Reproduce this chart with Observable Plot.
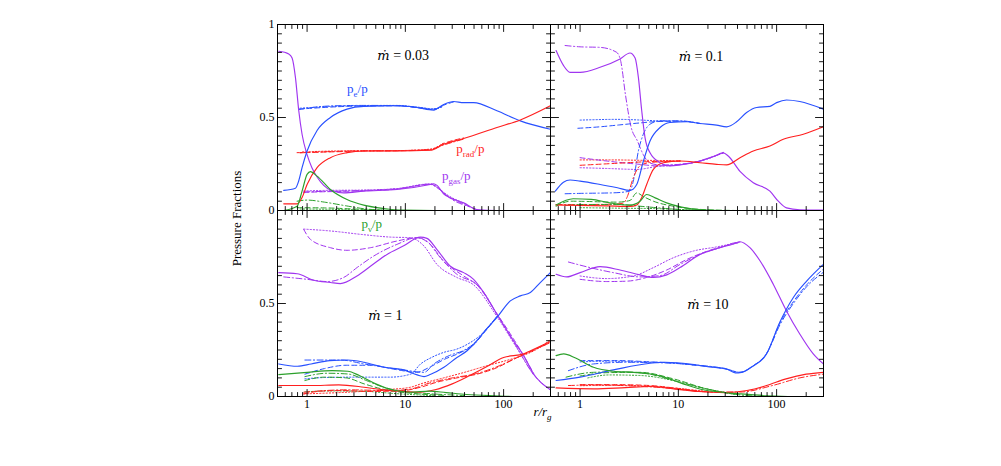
<!DOCTYPE html>
<html><head><meta charset="utf-8">
<script src="https://cdn.jsdelivr.net/npm/d3@7"></script>
<script src="https://cdn.jsdelivr.net/npm/@observablehq/plot@0.6"></script>
<style>body{margin:0;background:#fff;} #chart{width:1001px;height:466px;}</style>
</head><body><div id="chart"></div>
<script>
// ---- panels ----
const panelKeys = ["A","B","C","D"];
const panelCol = [0,1,0,1];
const panelRow = [0,0,1,1];
const panelTitle = ["0.03","0.1","1","10"];
const titleR = [9.5,17,6.26,20];
const titleV = [0.833,0.827,0.434,0.493];

// ---- species / styles ----
const speciesKeys = ["gas","pe","prad","pnu"];
const speciesColor = ["#a035f0","#2850ff","#ff1f1f","#2ca02c"];
const styleKeys = ["dot","dashdot","dash","solid"];
const styleDash = ["1.2,2","6,2.5,1.2,2.5","5,3",null];

// ---- species labels ----
const labelText = ["p_{e}/p","p_{rad}/p","p_{gas}/p","p_{ν}/p"];
const labelSpecies = ["pe","prad","gas","pnu"];
const labelPanel = [0,0,0,2];
const labelR = [2.55,33,23.6,3.57];
const labelV = [0.655,0.331,0.185,0.93];

// ---- ticks ----
const xMajor = [1,10,100];
const xMinor = [0.6,0.7,0.8,0.9,2,3,4,5,6,7,8,9,20,30,40,50,60,70,80,90,200];
const yMajor = [0.5];
const yMinor = [0.05,0.1,0.15,0.2,0.25,0.3,0.35,0.4,0.45,0.55,0.6,0.65,0.7,0.75,0.8,0.85,0.9,0.95];
const yLabelRow = [0,0,0,1,1];
const yLabelV = [1,0.5,0,0.5,0];
const yLabelText = ["1","0.5","0","0.5","0"];
const xLabelVals = [1,10,100];

// ---- data: [r/rg, fraction] ----
// Panel A: mdot = 0.03
const peA = {
 solid: [[0.579,0.108],[0.761,0.12],[0.823,0.16],[0.889,0.23],[1,0.32],[1.264,0.43],[1.727,0.50],[2.55,0.545],[3.77,0.56],[8.23,0.563],[13.1,0.554],[19.4,0.54],[24.5,0.57],[31,0.586],[39.2,0.58],[49.5,0.58],[85.5,0.536],[148,0.482],[299,0.437]],
 dash: [[0.823,0.545],[1,0.548],[1.73,0.556],[2.55,0.56],[3.77,0.562],[8.23,0.563],[13.1,0.553],[19.4,0.542],[24.5,0.566],[31,0.584]],
 dashdot: [[0.823,0.543],[1,0.55],[1.73,0.562],[3.77,0.565],[8.23,0.564],[13.1,0.555],[19.4,0.545],[24.5,0.563]],
 dot: [[0.85,0.55],[1.5,0.558],[3,0.563],[8.23,0.565],[13.1,0.556],[19.4,0.547],[24.5,0.56]]
};
const pradA = {
 solid: [[0.579,0.036],[0.791,0.036],[0.889,0.07],[1,0.14],[1.264,0.23],[1.727,0.284],[2.55,0.311],[3.77,0.32],[8.23,0.32],[17.9,0.324],[24.5,0.356],[39.2,0.387],[85.5,0.446],[148,0.487],[299,0.563]],
 dash: [[0.791,0.311],[1,0.312],[2,0.316],[3.77,0.32],[8.23,0.321],[17.9,0.326],[24.5,0.36],[39.2,0.39]],
 dashdot: [[0.85,0.31],[2,0.318],[3.77,0.321],[8.23,0.322],[17.9,0.328],[24.5,0.352],[39.2,0.384]],
 dot: [[0.9,0.315],[2,0.32],[8.23,0.322],[17.9,0.33],[24.5,0.362]]
};
const gasA = {
 solid: [[0.515,0.856],[0.651,0.842],[0.704,0.82],[0.761,0.716],[0.823,0.536],[0.889,0.41],[1,0.30],[1.12,0.23],[1.264,0.18],[1.477,0.135],[1.727,0.11],[2.36,0.095],[3.77,0.104],[8.23,0.113],[17.9,0.14],[19.4,0.144],[21,0.135],[24.5,0.09],[28.7,0.068],[39.2,0.041],[53.5,0.005],[85.5,0],[299,0]],
 dash: [[0.925,0.097],[1.3,0.1],[2.4,0.103],[3.77,0.106],[8.23,0.115],[17.9,0.142],[21,0.128],[26.5,0.08],[39.2,0.035],[53.5,0.004]],
 dashdot: [[0.925,0.1],[1.5,0.103],[3.77,0.108],[8.23,0.117],[17.9,0.14],[22,0.115],[28.7,0.065],[45,0.02]],
 dot: [[0.925,0.105],[1.5,0.108],[3.77,0.11],[8.23,0.118],[17.9,0.143],[21,0.125],[26.5,0.085],[39.2,0.04]]
};
const pnuA = {
 solid: [[0.579,0],[0.791,0.023],[0.889,0.104],[1,0.194],[1.081,0.209],[1.264,0.185],[1.727,0.113],[2.55,0.059],[3.77,0.029],[6.02,0.011],[9.62,0.002],[20,0],[299,0]],
 dashdot: [[0.791,0.05],[1,0.056],[1.5,0.045],[2.5,0.025],[4,0.008],[8,0]],
 dash: [[0.791,0.015],[1.5,0.014],[3,0.008],[6,0.002]],
 dot: [[0.85,0.008],[2,0.006],[5,0.001]]
};
// Panel B: mdot = 0.1
const gasB = {
 solid: [[0.57,0.86],[0.677,0.78],[0.791,0.743],[1,0.743],[1.597,0.77],[2.55,0.815],[3.22,0.847],[3.63,0.82],[3.92,0.716],[4.24,0.536],[4.58,0.392],[5.15,0.31],[6.5,0.257],[8.2,0.24],[10.4,0.245],[16.6,0.266],[22.7,0.29],[28.7,0.31],[32.2,0.293],[42.4,0.21],[57.9,0.149],[85.5,0.104],[104,0.05],[126,0.014],[172,0.004],[299,0.002]],
 dashdot: [[0.704,0.887],[1,0.88],[1.597,0.877],[2.36,0.85],[2.6,0.8],[2.9,0.62],[3.3,0.45],[3.83,0.374],[4.4,0.3],[5.15,0.255],[6.5,0.245],[10.4,0.248],[16.6,0.266],[22.7,0.29],[28.7,0.312]],
 dash: [[1,0.284],[1.867,0.266],[4.07,0.248],[6.02,0.24],[10.4,0.248],[16.6,0.266],[28.7,0.31]],
 dot: [[1,0.23],[1.867,0.226],[3.8,0.221],[6,0.236],[10,0.245],[16.6,0.266],[28.7,0.31]]
};
const peB = {
 solid: [[0.56,0.104],[0.677,0.152],[0.79,0.164],[1,0.158],[1.6,0.14],[2.4,0.122],[3.22,0.108],[3.77,0.14],[4.41,0.266],[5.15,0.374],[6.51,0.446],[8.2,0.473],[12.2,0.477],[16.6,0.468],[24.5,0.459],[31,0.45],[39.2,0.477],[49.5,0.527],[62.6,0.554],[85.5,0.56],[100,0.58],[126,0.594],[172,0.586],[299,0.545]],
 dashdot: [[0.704,0.09],[1,0.092],[2.18,0.095],[3.2,0.104],[3.48,0.158],[3.92,0.32],[4.4,0.41],[5.15,0.464],[6.5,0.482],[10.4,0.482],[16.6,0.468]],
 dash: [[0.95,0.442],[1.6,0.45],[2.5,0.46],[4.1,0.471],[6,0.478],[10.4,0.48],[16.6,0.468]],
 dot: [[1,0.486],[2.4,0.49],[6.5,0.482],[10.4,0.48]]
};
const pradB = {
 solid: [[0.57,0.03],[1,0.027],[1.867,0.025],[3.22,0.022],[3.77,0.03],[4.24,0.07],[4.76,0.14],[5.57,0.221],[7.04,0.257],[10.4,0.266],[16.6,0.257],[24.5,0.248],[31,0.245],[42.4,0.284],[57.9,0.32],[85.5,0.347],[117,0.383],[187,0.41],[299,0.45]],
 dash: [[1,0.243],[2.4,0.254],[5.15,0.263],[10.4,0.266]],
 dashdot: [[0.57,0.032],[1,0.032],[2.18,0.034],[2.76,0.04],[3.0,0.07],[3.48,0.176],[4.07,0.24],[5.15,0.258],[10.4,0.266]],
 dot: [[1,0.272],[2,0.272],[4.07,0.27],[8,0.268],[10.4,0.266]]
};
const pnuB = {
 solid: [[0.57,0.029],[0.85,0.063],[1.3,0.06],[2,0.041],[3.22,0.029],[4.07,0.05],[4.76,0.086],[5.8,0.068],[7.6,0.041],[10.8,0.018],[19.4,0.002],[28.7,0],[299,0]],
 dash: [[0.57,0.023],[0.8,0.05],[2.4,0.045],[3.22,0.054],[3.77,0.095],[4.41,0.075],[5.57,0.05],[8.9,0.023],[19.4,0.004],[40,0]],
 dashdot: [[0.704,0.027],[1,0.032],[2.55,0.032],[4.07,0.023],[6.02,0.015],[10.4,0.005],[20,0]],
 dot: [[1,0.015],[3,0.012],[6,0.01],[15,0.002]]
};
// Panel C: mdot = 1
const gasC = {
 solid: [[0.515,0.666],[0.791,0.66],[1.169,0.625],[1.727,0.613],[2.18,0.607],[3.22,0.648],[4.41,0.70],[6.51,0.764],[9.62,0.81],[14.2,0.857],[16.6,0.85],[21,0.79],[28.7,0.70],[39.2,0.666],[49.5,0.63],[62.6,0.56],[85.5,0.443],[126,0.30],[160,0.22],[202,0.121],[299,0.036]],
 dashdot: [[0.579,0.643],[1,0.63],[1.597,0.618],[2.36,0.64],[3.22,0.693],[4.76,0.755],[8.23,0.818],[13.1,0.854],[16.6,0.835],[22.7,0.746],[33.5,0.657],[53.5,0.6],[62.6,0.56],[85.5,0.44],[126,0.295],[202,0.118],[299,0.035]],
 dash: [[0.925,0.898],[1.081,0.845],[1.727,0.80],[2.55,0.786],[4.41,0.80],[8.23,0.836],[13.1,0.854],[17.9,0.818],[24.5,0.728],[39.2,0.648],[53.5,0.6],[85.5,0.445],[126,0.31],[202,0.125]],
 dot: [[0.925,0.9],[1.727,0.89],[3.77,0.87],[7.04,0.857],[11.2,0.854],[15.4,0.81],[21,0.71],[33.5,0.64],[49.5,0.60],[85.5,0.43],[126,0.29],[202,0.115]]
};
const peC = {
 solid: [[0.515,0.175],[0.8,0.1625],[1.1,0.175],[1.7,0.193],[2.57,0.196],[3.8,0.184],[6,0.157],[9.6,0.143],[13.2,0.116],[15.5,0.107],[17.9,0.118],[24.7,0.157],[33.5,0.21],[42.5,0.246],[53.5,0.3],[62.6,0.345],[85.5,0.425],[117,0.514],[148,0.541],[187,0.559],[236,0.6125],[299,0.666]],
 dashdot: [[0.95,0.196],[2.2,0.196],[3.8,0.175],[9.6,0.143],[15.5,0.13],[19.5,0.175],[28,0.22],[40,0.25],[53.5,0.3],[62.6,0.345],[85.5,0.43]],
 dash: [[0.95,0.12],[1.5,0.15],[2.5,0.168],[4.5,0.168],[8,0.145],[13,0.13],[18,0.16],[25,0.2],[35,0.232],[50,0.28],[62.6,0.34],[85.5,0.428]],
 dot: [[0.95,0.095],[1.5,0.102],[3,0.104],[7,0.104],[11.3,0.12],[14.3,0.175],[18.5,0.21],[24.7,0.2375],[33.5,0.255],[42.5,0.28],[62.6,0.345],[85.5,0.43]]
};
const pradC = {
 solid: [[0.515,0.059],[1.1,0.059],[2.1,0.0625],[3.8,0.05],[6,0.036],[9.6,0.027],[14,0.023],[20,0.036],[30,0.068],[45,0.1125],[67,0.16],[100,0.21],[160,0.229],[188,0.246],[299,0.296]],
 dash: [[0.925,0.014],[1.4,0.029],[2.2,0.032],[4.5,0.027],[9.6,0.032],[14.3,0.05],[21,0.077],[33.5,0.1],[53.5,0.12],[85.5,0.155],[126,0.2],[202,0.25],[299,0.29]],
 dashdot: [[0.925,0.023],[2.55,0.036],[7.04,0.032],[11.3,0.04],[17,0.07],[30,0.1],[50,0.12],[85.5,0.16],[126,0.2],[299,0.29]],
 dot: [[0.925,0.014],[2.55,0.023],[7,0.038],[11.3,0.05],[15,0.071],[24.5,0.1],[40,0.13],[67,0.165],[126,0.205],[202,0.245],[299,0.305]]
};
const pnuC = {
 solid: [[0.515,0.118],[1,0.13],[1.8,0.139],[2.6,0.136],[3.4,0.1125],[5,0.068],[7.3,0.036],[11.2,0.023],[17.5,0.029],[26,0.021],[42,0.011],[80,0.004],[137,0],[299,0]],
 dashdot: [[0.95,0.107],[1.6,0.125],[2.6,0.121],[4,0.086],[6,0.05],[9.6,0.027],[17.9,0.015],[40,0.005]],
 dash: [[0.95,0.086],[1.5,0.104],[2.5,0.1],[3.8,0.068],[6.3,0.036],[11.2,0.018],[25,0.006]],
 dot: [[0.95,0.025],[1.727,0.03],[3.77,0.028],[8.23,0.015],[20,0.004]]
};
// Panel D: mdot = 10
const gasD = {
 solid: [[0.57,0.657],[0.732,0.643],[1,0.666],[1.597,0.698],[2.55,0.68],[4.07,0.654],[5.57,0.64],[7.61,0.654],[10.4,0.693],[16.6,0.764],[26.5,0.80],[36.3,0.82],[42.4,0.832],[53.5,0.80],[67.7,0.73],[92.4,0.604],[126,0.46],[172,0.336],[236,0.229],[299,0.175]],
 dashdot: [[0.761,0.723],[1.264,0.693],[2.18,0.666],[4.07,0.643],[6.51,0.65],[10.4,0.71],[16.6,0.764],[26.5,0.80],[36.3,0.825],[42.4,0.83]],
 dash: [[1,0.63],[1.867,0.618],[2.98,0.62],[4.76,0.64],[7.61,0.68],[12.2,0.737],[19.4,0.78],[30,0.81],[42.4,0.828]],
 dot: [[1,0.648],[1.867,0.634],[3.49,0.648],[5.57,0.693],[8.9,0.746],[14.2,0.782],[25,0.805],[42.4,0.83]]
};
const peD = {
 solid: [[0.57,0.086],[1,0.104],[2.18,0.143],[5.16,0.179],[7.3,0.184],[13.1,0.175],[20,0.16],[30.9,0.148],[38,0.127],[44,0.13],[55,0.157],[79,0.229],[108,0.4],[148,0.532],[202,0.62],[299,0.71]],
 dashdot: [[0.761,0.139],[1.37,0.175],[2.9,0.184],[6.02,0.182],[13.1,0.172],[31,0.148],[42.4,0.13],[57.9,0.165],[79.1,0.23],[108,0.385],[148,0.50],[202,0.59],[299,0.668]],
 dash: [[1,0.193],[2.5,0.193],[5.2,0.186],[9,0.18],[15,0.168],[30,0.148],[42.4,0.13],[57.9,0.166],[79.1,0.232],[108,0.395],[148,0.51],[202,0.6],[299,0.685]],
 dot: [[1,0.186],[2,0.19],[4,0.186],[9,0.18],[15,0.168]]
};
const pradD = {
 solid: [[0.57,0.046],[1.37,0.041],[2.9,0.048],[5.16,0.054],[9,0.041],[16,0.027],[30,0.021],[50,0.032],[79,0.059],[125,0.095],[200,0.12],[299,0.13]],
 dash: [[1,0.064],[2.18,0.064],[5.16,0.059],[9,0.046],[19,0.026],[35,0.02]],
 dashdot: [[0.761,0.059],[1.5,0.062],[3,0.058],[8,0.045],[20,0.025],[42.4,0.024],[92.4,0.06],[172,0.1],[299,0.12]],
 dot: [[1,0.058],[2,0.06],[4,0.058],[9,0.046],[20,0.026]]
};
const pnuD = {
 solid: [[0.57,0.22],[0.68,0.229],[0.9,0.207],[1.37,0.157],[2.18,0.136],[3.5,0.13],[5.2,0.121],[7.2,0.104],[11.2,0.068],[17.3,0.0375],[27.5,0.023],[43,0.014],[80,0.004],[150,0],[299,0]],
 dashdot: [[0.72,0.104],[1.37,0.13],[2.5,0.132],[4.5,0.125],[8.9,0.086],[19.4,0.041],[40,0.01],[80,0]],
 dash: [[1,0.11],[1.867,0.128],[4.07,0.13],[8.9,0.095],[19.4,0.041],[40,0.01]],
 dot: [[1.2,0.1],[2,0.116],[4.07,0.113],[8.9,0.086],[19.4,0.041],[40,0.01]]
};

const seriesByPanel = {
 A:{gas:gasA, pe:peA, prad:pradA, pnu:pnuA},
 B:{gas:gasB, pe:peB, prad:pradB, pnu:pnuB},
 C:{gas:gasC, pe:peC, prad:pradC, pnu:pnuC},
 D:{gas:gasD, pe:peD, prad:pradD, pnu:pnuD}
};

// ---- build table ----
const rows = [];
panelKeys.forEach((p,i) => speciesKeys.forEach(s => styleKeys.forEach(st => {
  const pts = seriesByPanel[p][s][st];
  if (!pts) return;
  pts.forEach(([r,v]) => rows.push({col:panelCol[i], row:panelRow[i], species:s, style:st, key:p+"-"+s+"-"+st, r, v}));
})));

const facets = [[0,0],[1,0],[0,1],[1,1]];
const withFacets = vals => facets.flatMap(([c,r]) => vals.map(t => ({col:c,row:r,t})));
const tickShape = {draw(ctx, l){ ctx.moveTo(0,0); ctx.lineTo(0,-l); }};
function tickMarks(vals, len, dim){
  const data = withFacets(vals);
  const common = {fx:"col", fy:"row", length:len, anchor:"start", shape:tickShape, stroke:"#000", strokeWidth:0.9};
  if (dim === "x") return [
    Plot.vector(data, {...common, x:"t", frameAnchor:"bottom", rotate:0}),
    Plot.vector(data, {...common, x:"t", frameAnchor:"top", rotate:180})
  ];
  return [
    Plot.vector(data, {...common, y:"t", frameAnchor:"left", rotate:90}),
    Plot.vector(data, {...common, y:"t", frameAnchor:"right", rotate:-90})
  ];
}

const lineMarks = styleKeys.map((st,k) => Plot.line(rows.filter(d => d.style === st), {
  x:"r", y:"v", z:"key", fx:"col", fy:"row", stroke:"species",
  strokeWidth: st === "solid" ? 1.15 : 1, strokeDasharray: styleDash[k] || undefined, curve:"monotone-x"
}));

const titleRows = panelKeys.map((p,i) => ({col:panelCol[i], row:panelRow[i], r:titleR[i], v:titleV[i], label:"*ṁ* = " + panelTitle[i]}));
const labelRows = labelText.map((t,i) => ({col:panelCol[labelPanel[i]], row:panelRow[labelPanel[i]], r:labelR[i], v:labelV[i], label:t, species:labelSpecies[i]}));
const yLabRows = yLabelText.map((t,i) => ({col:0, row:yLabelRow[i], v:yLabelV[i], label:t}));
const xLabRows = [0,1].flatMap(c => xLabelVals.map(t => ({col:c, row:1, t})));

const chart = Plot.plot({
  width:1001, height:466,
  marginLeft:277, marginRight:178, marginTop:24, marginBottom:70,
  x:{type:"log", domain:[0.5,300], axis:null},
  y:{domain:[0,1], axis:null},
  fx:{domain:[0,1], axis:null, padding:0, round:false},
  fy:{domain:[0,1], axis:null, padding:0, round:false},
  color:{domain:speciesKeys, range:speciesColor},
  style:{fontFamily:"'Liberation Serif','DejaVu Serif',serif", fontSize:"12px", background:"#fff", color:"#000"},
  marks:[
    ...lineMarks,
    Plot.frame({stroke:"#000", strokeWidth:1}),
    ...tickMarks(xMajor, 7, "x"),
    ...tickMarks(xMinor, 4, "x"),
    ...tickMarks(yMajor, 8, "y"),
    ...tickMarks(yMinor, 4, "y"),
    Plot.text(titleRows, {x:"r", y:"v", fx:"col", fy:"row", text:"label", fontSize:14}),
    Plot.text(labelRows, {x:"r", y:"v", fx:"col", fy:"row", text:"label", fill:"species", fontSize:13, textAnchor:"start"}),
    Plot.text(yLabRows, {y:"v", fx:"col", fy:"row", text:"label", frameAnchor:"left", textAnchor:"end", dx:-3, fontSize:12}),
    Plot.text(xLabRows, {x:"t", fx:"col", fy:"row", text:d => String(d.t), frameAnchor:"bottom", dy:11, fontSize:12}),
    Plot.text([{col:0,row:0}], {fx:"col", fy:"row", frameAnchor:"bottom-left", textAnchor:"middle", text:() => "Pressure Fractions", rotate:-90, dx:-37, dy:8, fontSize:13}),
    Plot.text([{col:0,row:1}], {fx:"col", fy:"row", frameAnchor:"bottom-right", textAnchor:"middle", text:() => "r/r_{g}", fontStyle:"italic", dx:-8, dy:19, fontSize:13})
  ]
});

function richify(svg){
  svg.querySelectorAll("text").forEach(t => {
    const s = t.textContent;
    if (!/[_*]/.test(s)) return;
    t.textContent = "";
    const re = /(\*[^*]+\*)|(_\{[^}]+\})|([^*_]+)/g;
    let m, shifted = false;
    while ((m = re.exec(s))) {
      const ts = document.createElementNS("http://www.w3.org/2000/svg","tspan");
      if (m[1]) { ts.textContent = m[1].slice(1,-1); ts.setAttribute("font-style","italic"); ts.setAttribute("font-family","'DejaVu Serif',serif"); ts.setAttribute("font-size","13"); }
      else if (m[2]) { ts.textContent = m[2].slice(2,-1); ts.setAttribute("font-size","9"); ts.setAttribute("dy","4"); shifted = true; }
      else { ts.textContent = m[3]; if (shifted) { ts.setAttribute("dy","-4"); shifted = false; } }
      t.appendChild(ts);
    }
  });
}
richify(chart);
document.getElementById("chart").append(chart);
</script>
</body></html>
